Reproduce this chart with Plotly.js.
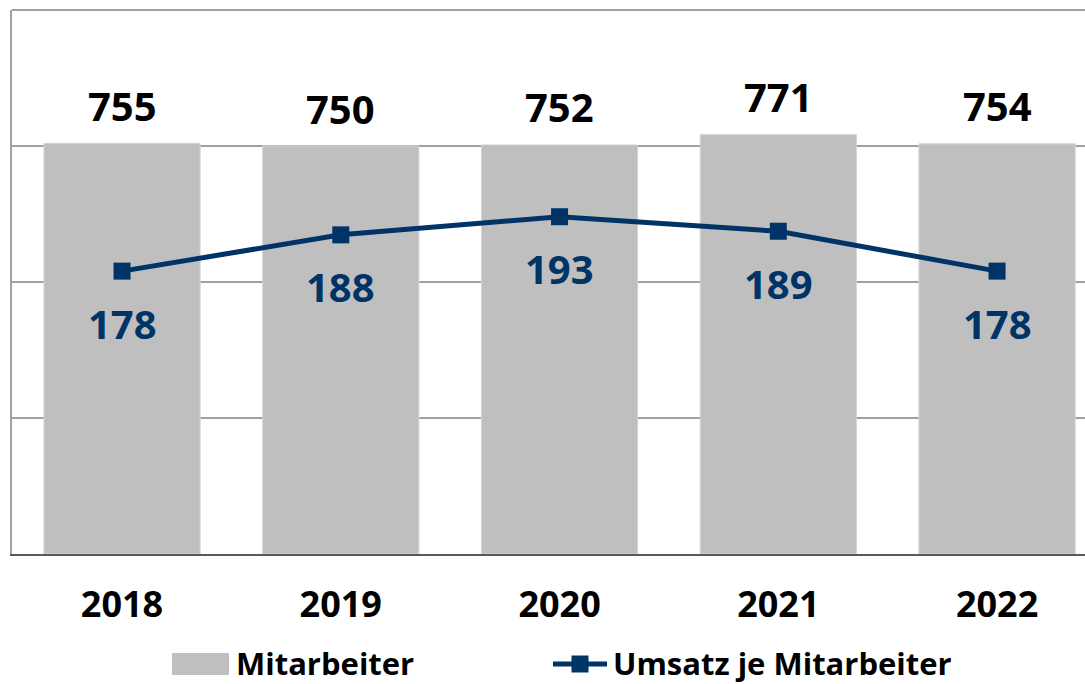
<!DOCTYPE html>
<html><head><meta charset="utf-8">
<script src="https://cdn.plot.ly/plotly-3.0.1.min.js"></script>
<style>html,body{margin:0;padding:0;overflow:hidden;background:#fff}</style>
</head><body><div id="chart" style="width:1085px;height:684px"></div>
<script>
const years = ['2018', '2019', '2020', '2021', '2022'];
const mitarbeiter = [755, 750, 752, 771, 754];
const umsatzJeMitarbeiter = [178, 188, 193, 189, 178];
const seriesNames = ['Mitarbeiter', 'Umsatz je Mitarbeiter'];

const W = 1085, H = 684, L = 12, R = 0, T = 10, B = 130;
const FONT = 'Open Sans, Noto Sans, DejaVu Sans, sans-serif';
const NAVY = '#003366';
const BARGREY = '#BFBFBF';
const px = v => (v - L) / (W - L - R);
const py = v => (H - B - v) / (H - T - B);

const barTrace = {
  type: 'bar', x: years, y: mitarbeiter, name: seriesNames[0],
  marker: {color: BARGREY, line: {color: '#D4D4D4', width: 1}},
  hoverinfo: 'x+y'
};
const lineTrace = {
  type: 'scatter', mode: 'lines+markers', x: years, y: umsatzJeMitarbeiter,
  name: seriesNames[1], yaxis: 'y2',
  line: {color: NAVY, width: 5},
  marker: {color: NAVY, symbol: 'square', size: 17}
};

const annotations = [];
years.forEach((yr, i) => {
  // category axis: annotation x is the category index
  annotations.push({x: i, y: mitarbeiter[i], xref: 'x', yref: 'y', text: String(mitarbeiter[i]),
    showarrow: false, yshift: 38, font: {family: FONT, size: 40, color: '#000', weight: 'bold'}});
  annotations.push({x: i, y: umsatzJeMitarbeiter[i], xref: 'x', yref: 'y2', text: String(umsatzJeMitarbeiter[i]),
    showarrow: false, yshift: -52, font: {family: FONT, size: 40, color: NAVY, weight: 'bold'}});
});
// legend text
annotations.push({xref: 'paper', yref: 'paper', x: px(235), y: py(663), xanchor: 'left', yanchor: 'middle',
  text: seriesNames[0], showarrow: false, borderpad: 0, font: {family: FONT, size: 31, color: '#000', weight: 'bold'}});
annotations.push({xref: 'paper', yref: 'paper', x: px(612), y: py(663), xanchor: 'left', yanchor: 'middle',
  text: seriesNames[1], showarrow: false, borderpad: 0, font: {family: FONT, size: 31, color: '#000', weight: 'bold'}});

const shapes = [
  {type: 'line', xref: 'paper', yref: 'paper', x0: 0, x1: 1, y0: 1, y1: 1, line: {color: '#A0A0A0', width: 2}},
  {type: 'rect', xref: 'paper', yref: 'paper', x0: px(172), x1: px(229), y0: py(675), y1: py(653),
    fillcolor: BARGREY, line: {width: 0}},
  {type: 'line', xref: 'paper', yref: 'paper', x0: px(553), x1: px(607), y0: py(664), y1: py(664),
    line: {color: NAVY, width: 5}},
  {type: 'rect', xref: 'paper', yref: 'paper', x0: px(571.5), x1: px(588.5), y0: py(672.5), y1: py(655.5),
    fillcolor: NAVY, line: {width: 0}}
];

const layout = {
  width: W, height: H,
  margin: {l: L, r: R, t: T, b: B, pad: 0},
  paper_bgcolor: '#fff', plot_bgcolor: '#fff',
  showlegend: false,
  bargap: 0.286,
  xaxis: {
    type: 'category', range: [-0.503, 4.402], showgrid: false,
    showline: true, linecolor: '#595959', linewidth: 2,
    ticks: '', ticklabelstandoff: 18,
    tickfont: {family: FONT, size: 36, color: '#000', weight: 'bold'},
    fixedrange: true
  },
  yaxis: {
    range: [0, 1000], tickvals: [0, 250, 500, 750, 1000], showticklabels: false,
    showgrid: true, gridcolor: '#A0A0A0', gridwidth: 2,
    zeroline: false, showline: true, linecolor: '#A0A0A0', linewidth: 2, ticks: '',
    fixedrange: true
  },
  yaxis2: {
    range: [100, 250], overlaying: 'y', side: 'right', showgrid: false, zeroline: false,
    showticklabels: false, showline: false, ticks: '', fixedrange: true
  },
  annotations: annotations,
  shapes: shapes
};

Plotly.newPlot('chart', [barTrace, lineTrace], layout, {displayModeBar: false, staticPlot: true});
</script>
</body></html>
